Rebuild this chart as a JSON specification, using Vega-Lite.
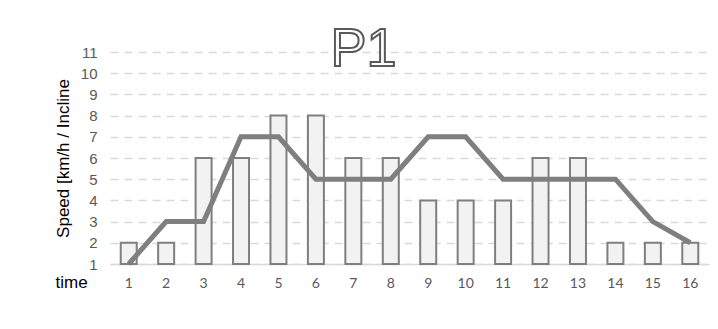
{
  "$schema": "https://vega.github.io/schema/vega-lite/v6.json",
  "autosize": {"type": "none"},
  "padding": {"left": 110, "top": 52, "right": 9, "bottom": 65},
  "width": 599,
  "height": 212,
  "background": "white",
  "title": {
    "text": "P1",
    "anchor": "middle",
    "frame": "group",
    "dx": -46,
    "offset": -75,
    "baseline": "alphabetic",
    "font": "Liberation Sans",
    "fontSize": 54,
    "fontWeight": "normal",
    "color": "white",
    "encoding": {
      "stroke": {"value": "#595959"},
      "strokeWidth": {"value": 2}
    }
  },
  "data": {
    "values": [
      {"t": 1, "bar": 2, "line": 1},
      {"t": 2, "bar": 2, "line": 3},
      {"t": 3, "bar": 6, "line": 3},
      {"t": 4, "bar": 6, "line": 7},
      {"t": 5, "bar": 8, "line": 7},
      {"t": 6, "bar": 8, "line": 5},
      {"t": 7, "bar": 6, "line": 5},
      {"t": 8, "bar": 6, "line": 5},
      {"t": 9, "bar": 4, "line": 7},
      {"t": 10, "bar": 4, "line": 7},
      {"t": 11, "bar": 4, "line": 5},
      {"t": 12, "bar": 6, "line": 5},
      {"t": 13, "bar": 6, "line": 5},
      {"t": 14, "bar": 2, "line": 5},
      {"t": 15, "bar": 2, "line": 3},
      {"t": 16, "bar": 2, "line": 2}
    ]
  },
  "encoding": {
    "x": {
      "field": "t",
      "type": "ordinal",
      "scale": {"paddingInner": 0, "paddingOuter": 0},
      "axis": {
        "title": "time",
        "titleFont": "Liberation Sans",
        "titleFontSize": 17,
        "titleFontWeight": "normal",
        "titleColor": "#000000",
        "titleAnchor": "start",
        "titleAlign": "left",
        "titleBaseline": "alphabetic",
        "titleX": -55,
        "titleY": 23,
        "labelAngle": 0,
        "labelFont": "Lato",
        "labelFontSize": 14,
        "labelColor": "#595959",
        "labelPadding": 12,
        "ticks": false,
        "domainColor": "#d9d9d9",
        "domainWidth": 1.5,
        "grid": false
      }
    }
  },
  "layer": [
    {
      "mark": {"type": "bar", "size": 16, "fill": "#f2f2f2", "stroke": "#7f7f7f", "strokeWidth": 2},
      "encoding": {
        "y": {
          "field": "bar",
          "type": "quantitative",
          "scale": {"domain": [1, 11], "zero": false, "nice": false},
          "axis": {
            "title": "Speed [km/h / Incline",
            "values": [1, 2, 3, 4, 5, 6, 7, 8, 9, 10, 11],
            "labelOverlap": false,
            "labelBound": false,
            "labelFont": "Liberation Sans",
            "labelFontSize": 15,
            "labelColor": "#595959",
            "labelPadding": 13,
            "titleFont": "Liberation Sans",
            "titleFontSize": 17,
            "titleFontWeight": "normal",
            "titleColor": "#000000",
            "titleAngle": -90,
            "titleBaseline": "middle",
            "titleX": -47,
            "titleY": 106,
            "ticks": false,
            "domain": false,
            "grid": true,
            "gridColor": "#d9d9d9",
            "gridDash": [8, 6],
            "gridWidth": 1.5
          }
        },
        "y2": {"datum": 1}
      }
    },
    {
      "mark": {"type": "line", "stroke": "#7f7f7f", "strokeWidth": 5},
      "encoding": {
        "y": {
          "field": "line",
          "type": "quantitative",
          "axis": {
            "title": "Speed [km/h / Incline",
            "values": [1, 2, 3, 4, 5, 6, 7, 8, 9, 10, 11],
            "labelOverlap": false,
            "labelBound": false,
            "labelFont": "Liberation Sans",
            "labelFontSize": 15,
            "labelColor": "#595959",
            "labelPadding": 13,
            "titleFont": "Liberation Sans",
            "titleFontSize": 17,
            "titleFontWeight": "normal",
            "titleColor": "#000000",
            "titleAngle": -90,
            "titleBaseline": "middle",
            "titleX": -47,
            "titleY": 106,
            "ticks": false,
            "domain": false,
            "grid": true,
            "gridColor": "#d9d9d9",
            "gridDash": [8, 6],
            "gridWidth": 1.5
          }
        }
      }
    }
  ],
  "config": {
    "view": {"stroke": null}
  }
}
